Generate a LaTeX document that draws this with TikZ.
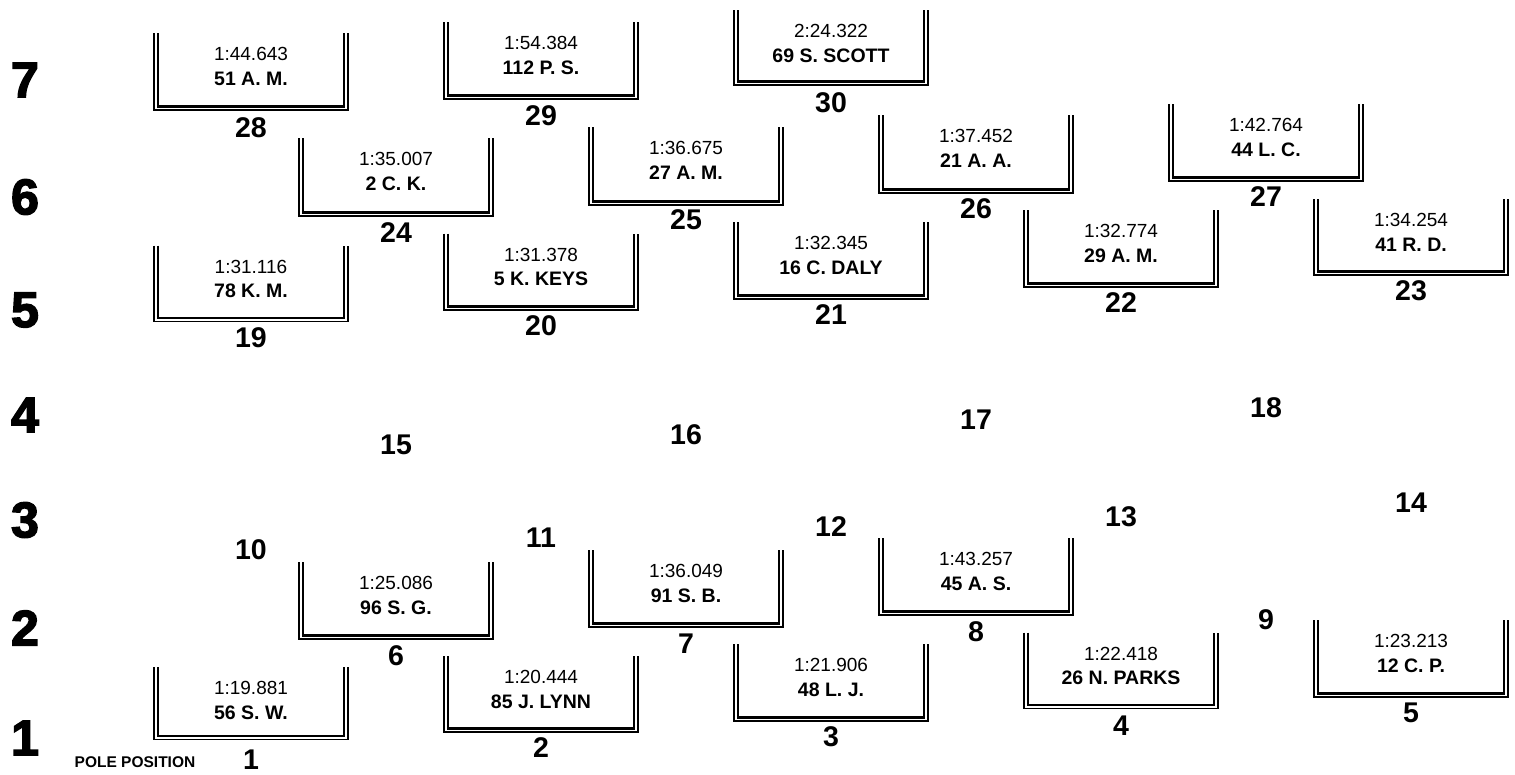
\documentclass[tikz,border=0pt]{standalone}
\usepackage{fontspec}
\setmainfont{Liberation Sans}
\newfontfamily\heavyfont{Liberation Sans Bold}[FakeBold=3]
\tikzset{
  outerline/.style={line width=1.4pt,line join=miter},
  innerline/.style={line width=2.8pt,line join=miter},
  timetext/.style={font=\fontsize{19}{20}\selectfont,inner sep=0pt},
  nametext/.style={font=\fontsize{19.5}{20}\bfseries\selectfont,inner sep=0pt},
  gridnum/.style={font=\fontsize{28.5}{30}\bfseries\selectfont,inner sep=0pt},
  rownum/.style={font=\fontsize{50}{52}\heavyfont\selectfont,inner sep=0pt},
  poletext/.style={font=\fontsize{15.5}{16}\bfseries\selectfont,inner sep=0pt}
}
% #1 name, #2 centre x, #3 top, #4 outer bottom, #5 time, #6 driver, #7 position, #8 label y
\newcommand\gridbox[8]{%
  \draw[outerline] ({#2-97},#3) -- ({#2-97},#4) -- ({#2+97},#4) -- ({#2+97},#3);
  \draw[innerline] ({#2-93},#3) -- ({#2-93},{#4-3.5}) -- ({#2+93},{#4-3.5}) -- ({#2+93},#3);
  \node[timetext] (#1t) at (#2,{#3+21}) {#5};
  \node[nametext] (#1n) at (#2,{#3+45.5}) {#6};
  \node[gridnum] (#1l) at (#2,#8) {#7};
}
\begin{document}
\begin{tikzpicture}[x=1pt,y=-1pt]
\useasboundingbox (0,0) rectangle (1515,774);
% row numbers
\node[rownum] (r7) at (25,80) {7};
\node[rownum] (r6) at (25,197) {6};
\node[rownum] (r5) at (25,310) {5};
\node[rownum] (r4) at (25,415) {4};
\node[rownum] (r3) at (25,520) {3};
\node[rownum] (r2) at (25,628) {2};
\node[rownum] (r1) at (25,738) {1};
\node[poletext] (pole) at (135,762) {POLE POSITION};
% row 1
\gridbox{p1}{251}{667}{739.5}{1:19.881}{56 S. W.}{1}{760}
\gridbox{p2}{541}{656}{732}{1:20.444}{85 J. LYNN}{2}{748}
\gridbox{p3}{831}{644}{721}{1:21.906}{48 L. J.}{3}{737}
\gridbox{p4}{1121}{632.5}{708.5}{1:22.418}{26 N. PARKS}{4}{726}
\gridbox{p5}{1411}{620}{697}{1:23.213}{12 C. P.}{5}{713}
% row 2
\gridbox{p6}{396}{562}{639}{1:25.086}{96 S. G.}{6}{656}
\gridbox{p7}{686}{550}{627}{1:36.049}{91 S. B.}{7}{644}
\gridbox{p8}{976}{538}{615}{1:43.257}{45 A. S.}{8}{632}
\node[gridnum] (p9l) at (1266,620) {9};
% rows 3 and 4
\node[gridnum] (p10l) at (251,550) {10};
\node[gridnum] (p11l) at (541,538) {11};
\node[gridnum] (p12l) at (831,527) {12};
\node[gridnum] (p13l) at (1121,517) {13};
\node[gridnum] (p14l) at (1411,503) {14};
\node[gridnum] (p15l) at (396,445) {15};
\node[gridnum] (p16l) at (686,435) {16};
\node[gridnum] (p17l) at (976,420) {17};
\node[gridnum] (p18l) at (1266,408) {18};
% row 5
\gridbox{p19}{251}{245.5}{321.5}{1:31.116}{78 K. M.}{19}{338}
\gridbox{p20}{541}{233.5}{310}{1:31.378}{5 K. KEYS}{20}{326}
\gridbox{p21}{831}{222}{299}{1:32.345}{16 C. DALY}{21}{315}
\gridbox{p22}{1121}{210}{287}{1:32.774}{29 A. M.}{22}{303}
\gridbox{p23}{1411}{199}{275}{1:34.254}{41 R. D.}{23}{291}
% row 6
\gridbox{p24}{396}{138}{216}{1:35.007}{2 C. K.}{24}{233}
\gridbox{p25}{686}{127}{205}{1:36.675}{27 A. M.}{25}{220}
\gridbox{p26}{976}{115}{193}{1:37.452}{21 A. A.}{26}{209}
\gridbox{p27}{1266}{104}{181}{1:42.764}{44 L. C.}{27}{197}
% row 7
\gridbox{p28}{251}{33}{110}{1:44.643}{51 A. M.}{28}{128}
\gridbox{p29}{541}{22}{99}{1:54.384}{112 P. S.}{29}{116}
\gridbox{p30}{831}{10}{85}{2:24.322}{69 S. SCOTT}{30}{103}
\end{tikzpicture}
\end{document}
